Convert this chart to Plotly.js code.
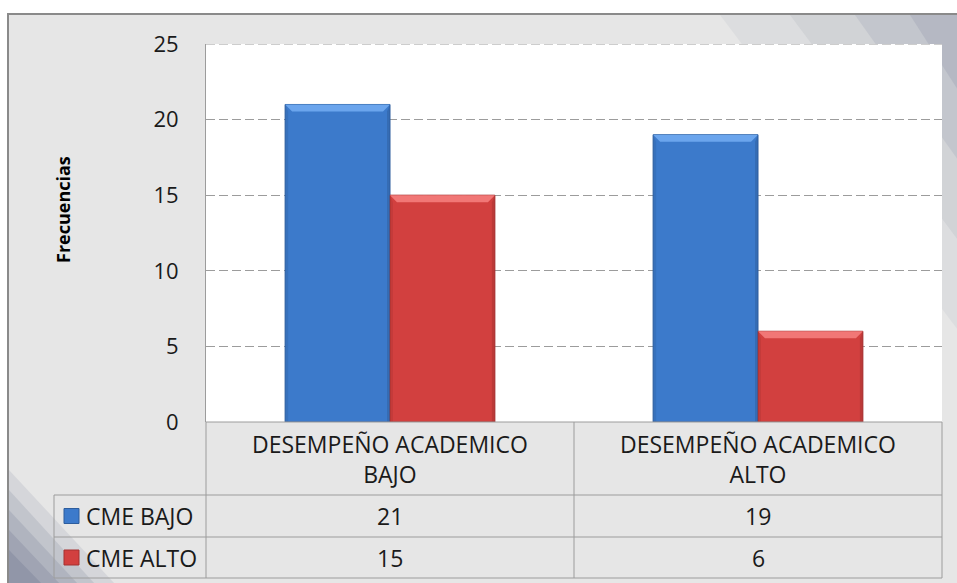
<!DOCTYPE html>
<html>
<head>
<meta charset="utf-8">
<script src="https://cdn.plot.ly/plotly-3.0.1.min.js"></script>
<style>html,body{margin:0;padding:0;background:#fff}#chart{width:957px;height:583px}</style>
</head>
<body>
<div id="chart"></div>
<script>
// ---- data ----
const categories = ["DESEMPEÑO ACADEMICO<br>BAJO", "DESEMPEÑO ACADEMICO<br>ALTO"];
const seriesNames = ["CME BAJO", "CME ALTO"];
const cmeBajo = [21, 19];
const cmeAlto = [15, 6];
const yTicks = [0, 5, 10, 15, 20, 25];
const yTitle = "Frecuencias";

// ---- layout helpers (pixel -> paper) ----
const W = 957, H = 583;
const L = 206, R = 942, T = 44, B = 422;
const YMAX = 25;
const px = x => (x - L) / (R - L);
const py = y => (B - y) / (B - T);
const FONT = "'Open Sans', 'Noto Sans', sans-serif";
const txtCol = "#1a1a1a";
const gridCol = "#9c9c9c";
const blue = "#3c7acb", blueDark = "#2d5d9d", blueLight = "#6ea8ee";
const red = "#d2403f", redDark = "#a53130", redLight = "#f27a79";
const xIdx = categories.map((_, i) => i);
const BARGAP = 0.43;

const traces = [
  {type: "bar", x: xIdx, y: cmeBajo, name: seriesNames[0],
   marker: {color: blue, line: {color: blueDark, width: 1}}},
  {type: "bar", x: xIdx, y: cmeAlto, name: seriesNames[1],
   marker: {color: red, line: {color: redDark, width: 1}}}
];

const shapes = [];
const ann = [];
function line(x0, y0, x1, y1, color, w) {
  shapes.push({type: "line", xref: "paper", yref: "paper", x0: px(x0), y0: py(y0), x1: px(x1), y1: py(y1),
    line: {color: color || gridCol, width: w || 1}, layer: "above"});
}
function poly(pts, fill) {
  shapes.push({type: "path", xref: "paper", yref: "paper", layer: "below",
    path: "M " + pts.map(p => px(p[0]) + " " + py(p[1])).join(" L ") + " Z",
    fillcolor: fill, line: {width: 0}});
}
// outer chart area
shapes.push({type: "rect", xref: "paper", yref: "paper", x0: px(8), y0: py(14), x1: px(962), y1: py(590),
  fillcolor: "#e6e6e6", line: {color: "#8a8a8a", width: 2}, layer: "below"});
// slate shading bottom-left (layered for soft gradient)
[[470, 115, 0.12], [490, 95, 0.15], [510, 78, 0.17], [530, 60, 0.19], [550, 42, 0.21]].forEach(s => {
  poly([[9, s[0]], [s[1], 584], [9, 584]], `rgba(90,98,128,${s[2]})`);
});
// slate shading top-right
[[720, 330, 0.07], [790, 240, 0.09], [855, 160, 0.12], [910, 90, 0.15]].forEach(s => {
  poly([[s[0], 15], [958, 15], [958, s[1]]], `rgba(100,108,138,${s[2]})`);
});
// white plot area
shapes.push({type: "rect", xref: "paper", yref: "paper", x0: 0, y0: 0, x1: 1, y1: 1,
  fillcolor: "#ffffff", line: {width: 0}, layer: "below"});
// top gridline (at the highest tick, which Plotly omits at the plot edge)
shapes.push({type: "line", xref: "paper", yref: "y", x0: 0, x1: 1,
  y0: yTicks[yTicks.length - 1], y1: yTicks[yTicks.length - 1],
  line: {color: gridCol, width: 1, dash: "9px,4px"}, layer: "below"});

// bevel highlights on bars (derived from data and bar geometry)
const unitPxX = (R - L) / 2, unitPxY = (B - T) / YMAX;
const bw = (1 - BARGAP) / 2;
[[cmeBajo, blueLight, blueDark], [cmeAlto, redLight, redDark]].forEach((s, k) => {
  s[0].forEach((v, i) => {
    const x0 = i - (1 - BARGAP) / 2 + k * bw, x1 = x0 + bw;
    const dx = 7 / unitPxX, dy = 7 / unitPxY, sx = 3 / unitPxX;
    shapes.push({type: "path", xref: "x", yref: "y", layer: "above",
      path: `M ${x0} ${v} L ${x1} ${v} L ${x1 - dx} ${v - dy} L ${x0 + dx} ${v - dy} Z`,
      fillcolor: s[1], opacity: 0.95, line: {width: 0}});
    shapes.push({type: "path", xref: "x", yref: "y", layer: "above",
      path: `M ${x1} ${v} L ${x1} 0 L ${x1 - sx} 0 L ${x1 - sx} ${v - dy} Z`,
      fillcolor: s[2], opacity: 0.5, line: {width: 0}});
    shapes.push({type: "path", xref: "x", yref: "y", layer: "above",
      path: `M ${x0} ${v} L ${x0} 0 L ${x0 + sx} 0 L ${x0 + sx} ${v - dy} Z`,
      fillcolor: s[2], opacity: 0.3, line: {width: 0}});
  });
});

// data table grid
const rowTop = 495, row1B = 537, row2B = 578, labL = 54, midX = (L + R) / 2;
line(L, B, R, B);
line(labL, rowTop, R, rowTop);
line(labL, row1B, R, row1B);
line(labL, row2B, R, row2B);
line(L, B, L, row2B);
line(midX, B, midX, row2B);
line(R, B, R, row2B);
line(labL, rowTop, labL, row2B);

// header labels
categories.forEach((c, i) => {
  ann.push({xref: "x", yref: "paper", x: i, y: py((B + rowTop) / 2), text: c, showarrow: false,
    font: {family: FONT, size: 23, color: txtCol}, xanchor: "center", yanchor: "middle"});
});
// value rows
const rows = [[seriesNames[0], cmeBajo, blue, blueDark], [seriesNames[1], cmeAlto, red, redDark]];
const rowCenters = [(rowTop + row1B) / 2, (row1B + row2B) / 2];
rows.forEach((r, k) => {
  const yc = rowCenters[k];
  shapes.push({type: "rect", xref: "paper", yref: "paper", layer: "above",
    x0: px(64), x1: px(79), y0: py(yc - 7.5), y1: py(yc + 7.5), fillcolor: r[2], line: {color: r[3], width: 1}});
  ann.push({xref: "paper", yref: "paper", x: px(84), y: py(yc), text: r[0], showarrow: false,
    font: {family: FONT, size: 23, color: txtCol}, xanchor: "left", yanchor: "middle"});
  r[1].forEach((v, i) => {
    ann.push({xref: "x", yref: "paper", x: i, y: py(yc), text: String(v), showarrow: false,
      font: {family: FONT, size: 23, color: txtCol}, xanchor: "center", yanchor: "middle"});
  });
});
// y-axis title
ann.push({xref: "paper", yref: "paper", x: px(63), y: py(210), text: yTitle, textangle: -90, showarrow: false,
  font: {family: FONT, size: 18, color: "#000", weight: "bold"}, xanchor: "center", yanchor: "middle"});

const layout = {
  width: W, height: H,
  margin: {l: L, r: W - R, t: T, b: H - B, pad: 0},
  paper_bgcolor: "#ffffff", plot_bgcolor: "#ffffff",
  showlegend: false,
  barmode: "group", bargap: BARGAP, bargroupgap: 0,
  font: {family: FONT, size: 22, color: txtCol},
  xaxis: {range: [-0.5, 1.5], showticklabels: false, showgrid: false, zeroline: false, showline: false,
    ticks: "", fixedrange: true},
  yaxis: {range: [0, YMAX], tickvals: yTicks, ticktext: yTicks.map(String), showgrid: true,
    gridcolor: gridCol, griddash: "9px,4px", gridwidth: 1, zeroline: false,
    showline: true, linecolor: gridCol, linewidth: 1, ticks: "", ticklabelstandoff: 22,
    tickfont: {family: FONT, size: 22, color: txtCol}},
  shapes: shapes,
  annotations: ann
};
Plotly.newPlot("chart", traces, layout, {staticPlot: true, displayModeBar: false});
</script>
</body>
</html>
